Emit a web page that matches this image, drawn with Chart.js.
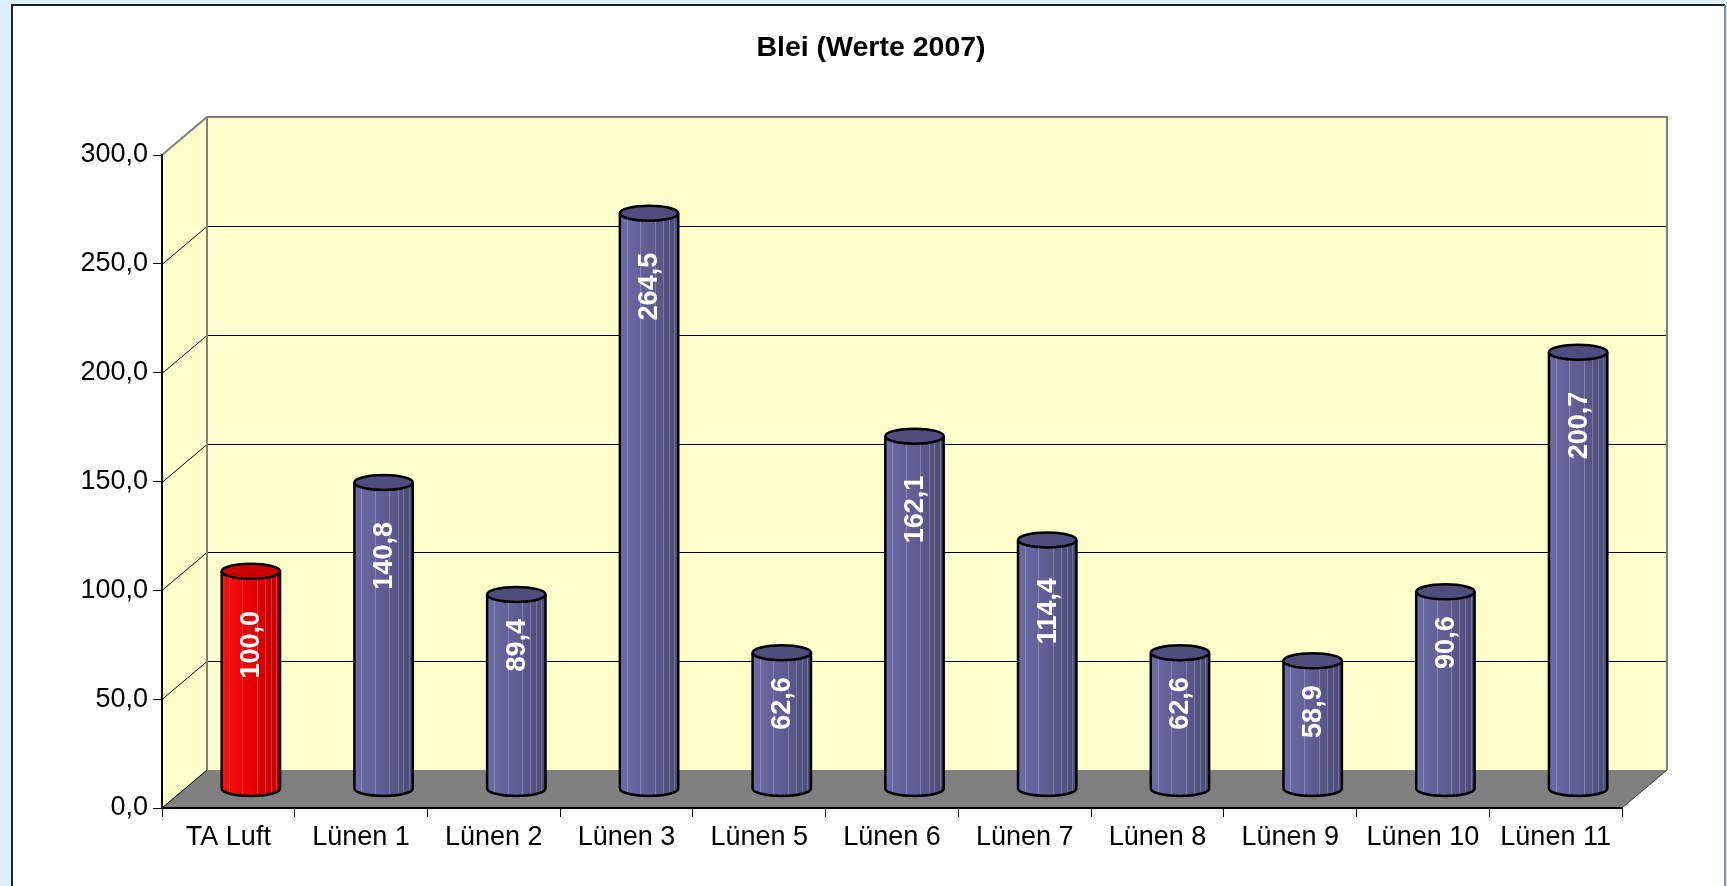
<!DOCTYPE html>
<html>
<head>
<meta charset="utf-8">
<script src="https://cdn.jsdelivr.net/npm/chart.js@4.4.1/dist/chart.umd.min.js"></script>
<style>
  html, body { margin: 0; padding: 0; background: #ddeefc; overflow: hidden; }
  canvas { display: block; }
</style>
</head>
<body>
<canvas id="grafico" width="1727" height="886"></canvas>
<script>
// Daten (Blei, Werte 2007)
const titel = 'Blei (Werte 2007)';
const kategorien = ['TA Luft', 'Lünen 1', 'Lünen 2', 'Lünen 3', 'Lünen 5', 'Lünen 6', 'Lünen 7', 'Lünen 8', 'Lünen 9', 'Lünen 10', 'Lünen 11'];
const werte = [100.0, 140.8, 89.4, 264.5, 62.6, 162.1, 114.4, 62.6, 58.9, 90.6, 200.7];
const yTicks = [0, 50, 100, 150, 200, 250, 300];

const schrift = '"Liberation Sans", Arial, sans-serif';
const TIEFE_X = 45;   // 3D-Versatz der Rückwand
const TIEFE_Y = 38;

function format(v) {
    return v.toFixed(1).replace('.', ',');
}

// Rückwand, Seitenwand, Boden und Gitterlinien (3D-Optik)
const wandPlugin = {
    id: 'wand',
    beforeDraw(chart) {
        const ctx = chart.ctx;
        const a = chart.chartArea;
        const y = chart.scales.y;

        ctx.save();
        // Hintergrund
        ctx.fillStyle = '#ddeefc';
        ctx.fillRect(0, 0, chart.width, chart.height);
        ctx.fillStyle = '#ffffff';
        ctx.fillRect(12, 5, 1713, chart.height);
        ctx.lineWidth = 2;
        ctx.strokeStyle = '#222222';
        ctx.beginPath();
        ctx.moveTo(12, chart.height);
        ctx.lineTo(12, 5);
        ctx.lineTo(1725, 5);
        ctx.stroke();
        ctx.strokeStyle = '#8a8a8a';
        ctx.beginPath();
        ctx.moveTo(1725, 5);
        ctx.lineTo(1725, chart.height);
        ctx.stroke();

        // Titel
        ctx.fillStyle = '#000000';
        ctx.font = 'bold 28.5px ' + schrift;
        ctx.textAlign = 'center';
        ctx.textBaseline = 'middle';
        ctx.fillText(titel, 871, 48);

        const bl = a.left + TIEFE_X, br = a.right + TIEFE_X;
        const bt = a.top - TIEFE_Y, bb = a.bottom - TIEFE_Y;

        // Wände
        ctx.fillStyle = '#ffffcc';
        ctx.beginPath();
        ctx.moveTo(a.left, a.top);
        ctx.lineTo(bl, bt);
        ctx.lineTo(br, bt);
        ctx.lineTo(br, bb);
        ctx.lineTo(a.right, a.bottom);
        ctx.lineTo(a.left, a.bottom);
        ctx.closePath();
        ctx.fill();

        // Boden
        ctx.fillStyle = '#808080';
        ctx.beginPath();
        ctx.moveTo(a.left, a.bottom);
        ctx.lineTo(bl, bb);
        ctx.lineTo(br, bb);
        ctx.lineTo(a.right, a.bottom);
        ctx.closePath();
        ctx.fill();

        // Gitterlinien
        ctx.strokeStyle = '#000000';
        ctx.lineWidth = 1;
        yTicks.forEach(v => {
            if (v === 0 || v === 300) return;
            const py = Math.round(y.getPixelForValue(v)) + 0.5;
            ctx.beginPath();
            ctx.moveTo(a.left, py);
            ctx.lineTo(bl, py - TIEFE_Y);
            ctx.lineTo(br, py - TIEFE_Y);
            ctx.stroke();
        });
        ctx.beginPath();
        ctx.moveTo(a.left, a.bottom);
        ctx.lineTo(bl, bb);
        ctx.stroke();

        // Rahmen der Wand
        ctx.strokeStyle = '#808080';
        ctx.lineWidth = 2;
        ctx.beginPath();
        ctx.moveTo(a.left, a.top);
        ctx.lineTo(bl, bt);
        ctx.lineTo(br, bt);
        ctx.lineTo(br, bb);
        ctx.moveTo(bl, bt);
        ctx.lineTo(bl, bb);
        ctx.stroke();
        ctx.strokeStyle = '#404040';
        ctx.lineWidth = 1;
        ctx.beginPath();
        ctx.moveTo(br, bb);
        ctx.lineTo(a.right, a.bottom);
        ctx.stroke();
        ctx.restore();
    },
    // Säulen als Zylinder zeichnen
    afterDatasetsDraw(chart) {
        const ctx = chart.ctx;
        const meta = chart.getDatasetMeta(0);
        meta.data.forEach((bar, i) => {
            const p = bar.getProps(['x', 'y', 'base', 'width'], true);
            const cx = p.x + TIEFE_X / 2;
            const top = p.y - TIEFE_Y / 2;
            const unten = p.base - TIEFE_Y / 2;
            const r = p.width / 2;
            const ry = 7.5;
            const rot = i === 0;

            const grad = ctx.createLinearGradient(cx - r, 0, cx + r, 0);
            if (rot) {
                grad.addColorStop(0, '#ff1010');
                grad.addColorStop(0.5, '#e60000');
                grad.addColorStop(1, '#c00000');
            } else {
                grad.addColorStop(0, '#6c6ca6');
                grad.addColorStop(0.5, '#5e5e93');
                grad.addColorStop(1, '#4a4a76');
            }

            ctx.save();
            ctx.beginPath();
            ctx.moveTo(cx - r, top);
            ctx.lineTo(cx - r, unten);
            ctx.ellipse(cx, unten, r, ry, 0, Math.PI, 0, true);
            ctx.lineTo(cx + r, top);
            ctx.closePath();
            ctx.fillStyle = grad;
            ctx.fill();

            // Facettenkanten
            ctx.strokeStyle = 'rgba(255,255,255,0.22)';
            ctx.lineWidth = 1;
            [0.12, 0.35, 0.6, 0.74, 0.84, 0.93].forEach(f => {
                const lx = Math.round(cx - r + f * 2 * r) + 0.5;
                ctx.beginPath();
                ctx.moveTo(lx, top);
                ctx.lineTo(lx, unten + ry * Math.sqrt(Math.max(0, 1 - Math.pow((lx - cx) / r, 2))));
                ctx.stroke();
            });

            ctx.beginPath();
            ctx.moveTo(cx - r, top);
            ctx.lineTo(cx - r, unten);
            ctx.ellipse(cx, unten, r, ry, 0, Math.PI, 0, true);
            ctx.lineTo(cx + r, top);
            ctx.strokeStyle = '#000000';
            ctx.lineWidth = 2.5;
            ctx.stroke();

            // Deckel
            ctx.beginPath();
            ctx.ellipse(cx, top, r, ry, 0, 0, Math.PI * 2);
            ctx.fillStyle = rot ? '#cc0000' : '#4e4e7e';
            ctx.fill();
            ctx.stroke();

            // Wertbeschriftung
            ctx.font = 'bold 27px ' + schrift;
            const text = format(werte[i]);
            const tw = ctx.measureText(text).width;
            ctx.translate(cx, top + 2 * tw - 28);
            ctx.rotate(-Math.PI / 2);
            ctx.fillStyle = '#ffffff';
            ctx.textAlign = 'left';
            ctx.textBaseline = 'middle';
            ctx.fillText(text, 0, 1);
            ctx.restore();
        });
    }
};

const grafik = new Chart(document.getElementById('grafico'), {
    type: 'bar',
    data: {
        labels: kategorien,
        datasets: [{
            label: 'Blei',
            data: werte,
            backgroundColor: 'rgba(0,0,0,0)',
            borderWidth: 0,
            categoryPercentage: 1.0,
            barPercentage: 0.44
        }]
    },
    options: {
        responsive: false,
        animation: false,
        devicePixelRatio: 1,
        layout: { padding: { left: 0, right: 105, top: 155, bottom: 0 } },
        plugins: {
            legend: { display: false },
            tooltip: { enabled: false },
            title: { display: false }
        },
        scales: {
            x: {
                offset: true,
                grid: { offset: true, drawOnChartArea: false, drawTicks: true, tickLength: 9, color: '#000000' },
                border: { color: '#000000', width: 2 },
                ticks: { color: '#000000', font: { family: schrift, size: 27 }, padding: 4, maxRotation: 0, autoSkip: false },
                afterFit(scale) { scale.height = 78; }
            },
            y: {
                min: 0,
                max: 300,
                afterBuildTicks(scale) { scale.ticks = yTicks.map(v => ({ value: v })); },
                grid: { drawOnChartArea: false, drawTicks: true, tickLength: 9, color: '#000000' },
                border: { color: '#000000', width: 2 },
                ticks: { color: '#000000', font: { family: schrift, size: 27 }, padding: 5, callback: v => format(v) },
                afterFit(scale) { scale.width = 162; }
            }
        }
    },
    plugins: [wandPlugin]
});
</script>
</body>
</html>
